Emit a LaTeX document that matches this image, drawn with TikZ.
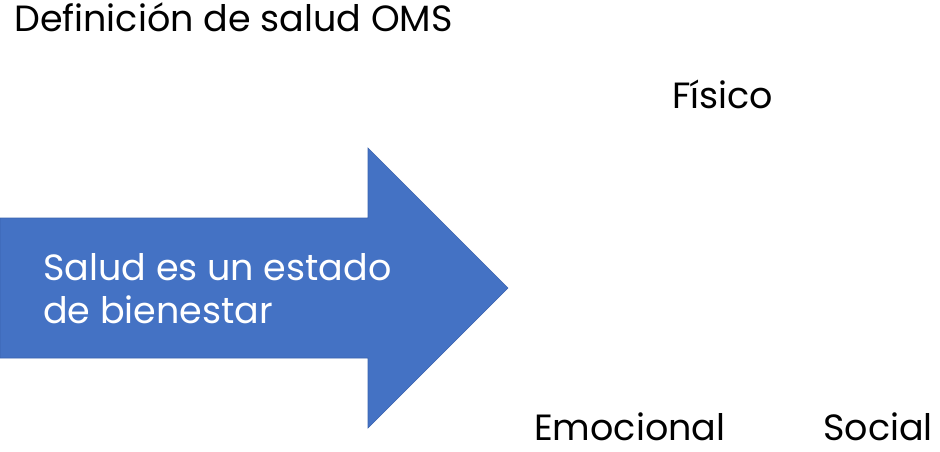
\documentclass[tikz,border=0pt]{standalone}
\usepackage{fontspec}
\setmainfont{Poppins}
\definecolor{arrowblue}{HTML}{4472C4}
\definecolor{arrowedge}{HTML}{3A63AE}
\begin{document}
\begin{tikzpicture}
	[
	x=1pt, y=-1pt,
	every node/.style={inner sep=0pt, font=\fontsize{36.5}{43}\selectfont},
	label/.style={anchor=base west, text=black}
	]
		\useasboundingbox (0,0) rectangle (940,451);
		
		% title
		\node[label] (title) at (14, 31) {Definición de salud OMS};
		
		% arrow
		\fill[arrowblue, draw=arrowedge, line width=0.6pt]
			(0,218) -- (368,218) -- (368,148) -- (508,288) -- (368,428) -- (368,358) -- (0,358) -- cycle;
		\node[label, text=white, align=left] (salud) at (43, 323) {Salud es un estado\\de bienestar};
		
		% dimensions
		\node[label] (fisico) at (672, 108) {Físico};
		\node[label] (emocional) at (534, 440) {Emocional};
		\node[label, anchor=base east] (social) at (933, 440) {Social};
	\end{tikzpicture}
\end{document}
